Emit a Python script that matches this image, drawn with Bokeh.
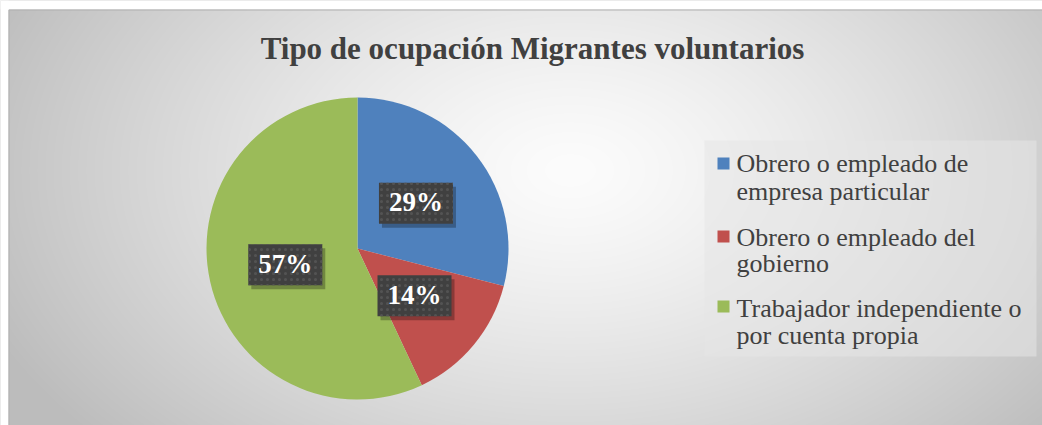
import numpy as np
from bokeh.plotting import figure
from bokeh.models import Range1d
from bokeh.core.properties import value
from bokeh.embed import file_html
from bokeh.resources import INLINE

# ---- data ----
categories = [" Obrero o empleado de empresa particular",
              "Obrero o empleado del gobierno",
              "Trabajador independiente o por cuenta propia"]
legend_lines = [[" Obrero o empleado de", "empresa particular"],
                ["Obrero o empleado del", "gobierno"],
                ["Trabajador independiente o", "por cuenta propia"]]
values = [29, 14, 57]
colors = ["#4F81BD", "#C0504D", "#9BBB59"]
title = "Tipo de ocupación Migrantes voluntarios"

TW, TH = 1042, 425     # whole picture
OX, OY = 8, 9          # white margin before the chart area

def px(x):  # image x -> data x
    return x

def py(y):  # image y -> data y
    return TH - y

p = figure(width=TW, height=TH, x_range=Range1d(0, TW), y_range=Range1d(0, TH),
           output_backend="svg", toolbar_location=None, min_border=0)
p.xaxis.visible = False
p.yaxis.visible = False
p.grid.visible = False
p.outline_line_color = None
p.background_fill_color = "#cccccc"
p.border_fill_color = "#cccccc"

# ---- radial gradient background of the chart area ----
W, H = TW - OX, TH - OY
xs = np.arange(W) + 0.5 + OX
ys = np.arange(H) + 0.5
X, Y = np.meshgrid(xs, ys)
yimg = TH - Y
d = np.sqrt(((X - 570) / 620) ** 2 + ((yimg - 170) / 400) ** 2)
v = np.clip(252 - 62 * d ** 1.3, 188, 252).astype(np.uint8)
img = np.empty((H, W), dtype=np.uint32)
view = img.view(dtype=np.uint8).reshape((H, W, 4))
view[:, :, 0] = v
view[:, :, 1] = v
view[:, :, 2] = v
view[:, :, 3] = 255
p.image_rgba(image=[img], x=OX, y=0, dw=W, dh=H)

# white page margin and chart border
p.quad(left=[0, 0], right=[OX, TW], bottom=[0, py(OY)], top=[TH, TH],
       fill_color="white", line_color=None)
p.quad(left=[px(OX) + 0.5], right=[TW + 2], bottom=[-2], top=[py(OY) - 0.5],
       fill_color=None, line_color="#b0b0b0", line_width=1)

# ---- title ----
p.text(x=[px(532)], y=[py(48)], text=[title], text_align="center",
       text_baseline="middle", text_font=value("Liberation Serif"),
       text_font_style="bold", text_font_size="31px", text_color="#404040")

# ---- pie ----
cx, cy, r = px(357), py(248), 151
total = float(sum(values))
fr = np.array(values) / total
cum = np.concatenate([[0], np.cumsum(fr)])
starts = np.pi / 2 - 2 * np.pi * cum[:-1]
ends = np.pi / 2 - 2 * np.pi * cum[1:]
p.wedge(x=cx, y=cy, radius=r, start_angle=starts, end_angle=ends,
        direction="clock", fill_color=colors, line_color=None)

mids = (starts + ends) / 2
lx = cx + 0.49 * r * np.cos(mids)
ly = cy + 0.49 * r * np.sin(mids)
labels = [f"{v_}%" for v_ in values]
bw, bh = 74, 41
p.rect(x=lx + 3, y=ly - 4, width=bw, height=bh, fill_color="black",
       fill_alpha=0.28, line_color=None)
p.rect(x=lx, y=ly, width=bw, height=bh, fill_color="#404040",
       hatch_pattern="dot", hatch_color="#535353", hatch_scale=6,
       hatch_weight=1, line_color=None)
p.text(x=lx, y=ly + 1, text=labels, text_align="center", text_baseline="middle",
       text_font=value("Liberation Serif"), text_font_style="bold",
       text_font_size="27px", text_color="white")

# ---- legend ----
lx0, lx1, ly0, ly1 = 704, 1036, 140, 356
p.quad(left=px(lx0), right=px(lx1), top=py(ly0), bottom=py(ly1),
       fill_color="#e6e6e6", fill_alpha=0.55, line_color=None)
sq_y = [163, 236, 306]
line_y = [[163, 191], [237, 263], [308, 335]]
p.rect(x=[px(723)] * 3, y=[py(yy) for yy in sq_y], width=12, height=12,
       fill_color=colors, line_color=None)
tx, ty, tt = [], [], []
for lines, ys_ in zip(legend_lines, line_y):
    for t, yy in zip(lines, ys_):
        tx.append(px(736))
        ty.append(py(yy))
        tt.append(t)
p.text(x=tx, y=ty, text=tt, text_align="left", text_baseline="middle",
       text_font=value("Liberation Serif"), text_font_size="26px",
       text_color="#404040")

open("out.html", "w").write(file_html(p, INLINE))
